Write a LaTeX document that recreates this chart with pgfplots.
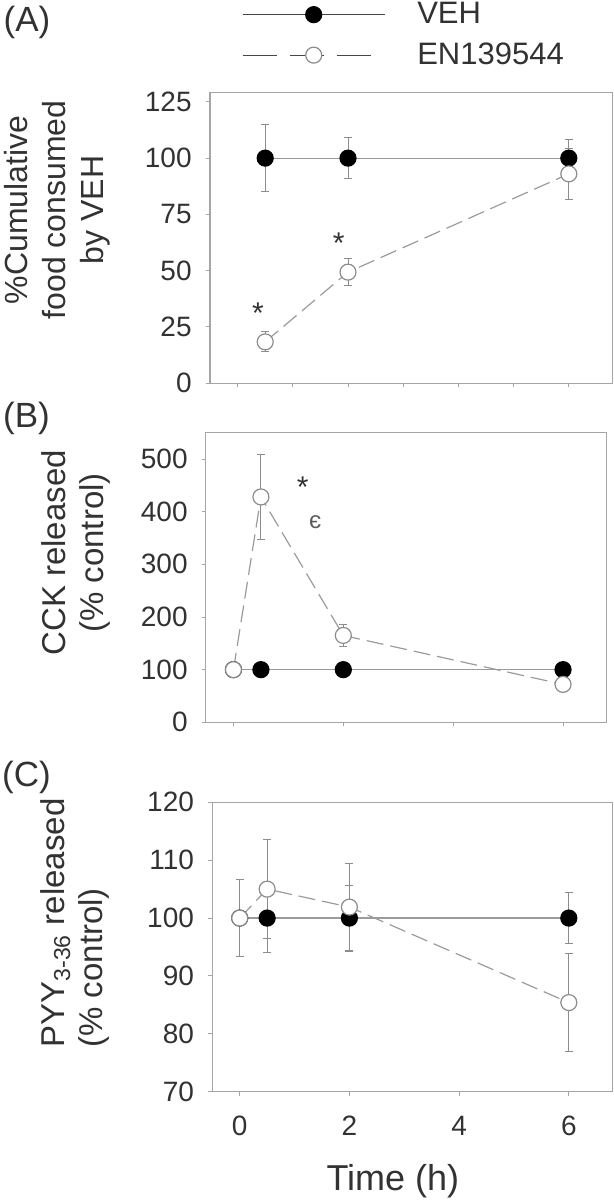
\documentclass[border=0pt]{standalone}
\usepackage{pgfplots}
\pgfplotsset{compat=1.18}
\usepackage{fontspec}
\setmainfont{Liberation Sans}
\setsansfont{Liberation Sans}

\definecolor{axgray}{RGB}{165,165,165}
\definecolor{lngray}{RGB}{155,155,155}
\definecolor{ebgray}{RGB}{140,140,140}
\definecolor{txt}{RGB}{50,50,50}
\definecolor{leg}{RGB}{70,70,70}

\pgfplotsset{
  panel/.style={
    scale only axis,
    xmin=-0.5, xmax=6.8,
    axis line style={axgray, line width=0.5pt},
    every tick/.style={axgray, line width=0.5pt},
    major tick length=2pt,
    tick align=outside,
    tick pos=left,
    /pgf/number format/assume math mode=true,
    tick label style={font=\fontsize{14}{16}\selectfont, text=txt},
    yticklabel style={inner sep=0pt, xshift=-7pt},
    xticklabel style={inner sep=0pt, yshift=-10pt},
    ylabel style={font=\fontsize{16.5}{19}\selectfont, text=txt, anchor=center, align=center},
    xlabel style={font=\fontsize{18}{20}\selectfont, text=txt},
  },
  ebars/.style={
    error bars/y dir=both, error bars/y explicit,
    error bars/error bar style={solid, ebgray, line width=0.5pt},
    error bars/error mark options={solid, rotate=90, ebgray, line width=0.5pt, mark size=2pt},
  },
  veh/.style={
    lngray, line width=0.6pt, mark=*, mark size=4pt,
    mark options={solid, fill=black, draw=black}, ebars,
  },
  en/.style={
    lngray, line width=0.6pt, dash pattern=on 8.5pt off 3.5pt,
    mark=*, mark size=4pt,
    mark options={solid, fill=white, draw=ebgray, line width=0.6pt}, ebars,
  },
  vehleg/.style={legend image code/.code={
    \draw[mark repeat=2, mark phase=2, ##1, leg] plot coordinates {(0pt,0pt) (35.5pt,0pt) (71pt,0pt)};}},
  enleg/.style={legend image code/.code={
    \draw[mark repeat=2, mark phase=2, ##1, leg, dash pattern=on 17pt off 6.5pt] plot coordinates {(0pt,0pt) (35.5pt,0pt) (64.5pt,0pt)};}},
}

\begin{document}
\begin{tikzpicture}
\path[use as bounding box] (0pt,0pt) rectangle (307pt,-600pt);

% (A) food intake
\begin{axis}[panel,
  at={(105pt,-191.5pt)}, anchor=south west,
  width=201.5pt, height=145.5pt,
  ymin=0, ymax=129.4,
  ytick={0,25,50,75,100,125},
  xtick={0,1,2,3,4,5,6}, xticklabels={},
  ylabel={\%Cumulative\\food consumed\\by VEH},
  ylabel style={at={(axis description cs:-0.38,0.595)}, font=\fontsize{16}{19}\selectfont},
  legend style={at={(axis description cs:0.0787,1.196)}, anchor=west,
    draw=none, fill=none, inner sep=0pt, row sep=8pt, column sep=16pt,
    nodes={inner sep=0pt, text=txt, font=\fontsize{15.5}{17}\selectfont}},
  legend cell align=left,
]
\addplot[veh, vehleg]
  coordinates {(0.5,100) +- (0,15) (2,100) +- (0,9) (6,100) +- (0,8.5)};
\addlegendentry{VEH}
\addplot[en, enleg]
  coordinates {(0.5,18.3) +- (0,4.5) (2,49.3) +- (0,6) (6,93) +- (0,11.5)};
\addlegendentry{EN139544}
\node[font=\fontsize{15}{15}\selectfont, text=txt] at (axis cs:0.37,31) {*};
\node[font=\fontsize{15}{15}\selectfont, text=txt] at (axis cs:1.83,62) {*};
\end{axis}

% (B) CCK
\begin{axis}[panel,
  at={(103pt,-361.15pt)}, anchor=south west,
  width=200.5pt, height=144.8pt,
  ymin=0, ymax=550,
  ytick={0,100,200,300,400,500},
  xtick={0,2,4,6}, xticklabels={},
  ylabel={CCK released\\(\% control)},
  ylabel style={at={(axis description cs:-0.325,0.585)}},
]
\addplot[veh] coordinates {(0,100) +- (0,0) (0.5,100) +- (0,0) (2,100) +- (0,0) (6,100) +- (0,0)};
\addplot[en] coordinates {(0,100) +- (0,0) (0.5,428) +- (0,80) (2,165) +- (0,21) (6,72) +- (0,5)};
\node[font=\fontsize{15}{15}\selectfont, text=txt] at (axis cs:1.26,447) {*};
\node[font=\fontsize{12}{12}\selectfont, text=txt!80] at (axis cs:1.49,381) {є};
\end{axis}

% (C) PYY
\begin{axis}[panel,
  at={(106.15pt,-545.85pt)}, anchor=south west,
  width=200.2pt, height=144.7pt,
  ymin=70, ymax=120,
  ytick={70,80,90,100,110,120},
  xtick={0,2,4,6},
  ylabel={PYY\textsubscript{3-36} released\\(\% control)},
  ylabel style={at={(axis description cs:-0.342,0.583)}, align=left},
  xlabel={Time (h)},
  xlabel style={at={(axis description cs:0.451,-0.31)}, anchor=center},
]
\addplot[veh] coordinates {(0,100) +- (0,0) (0.5,100) +- (0,5.9) (2,100) +- (0,5.6) (6,100) +- (0,4.4)};
\addplot[en] coordinates {(0,100) +- (0,6.7) (0.5,105) +- (0,8.6) (2,101.9) +- (0,7.6) (6,85.4) +- (0,8.4)};
\end{axis}

\node[font=\fontsize{17.5}{19}\selectfont, text=txt] at (13.5pt,-11pt) {(A)};
\node[font=\fontsize{17.5}{19}\selectfont, text=txt] at (13.25pt,-209pt) {(B)};
\node[font=\fontsize{17.5}{19}\selectfont, text=txt] at (13.25pt,-388.5pt) {(C)};
\end{tikzpicture}
\end{document}
